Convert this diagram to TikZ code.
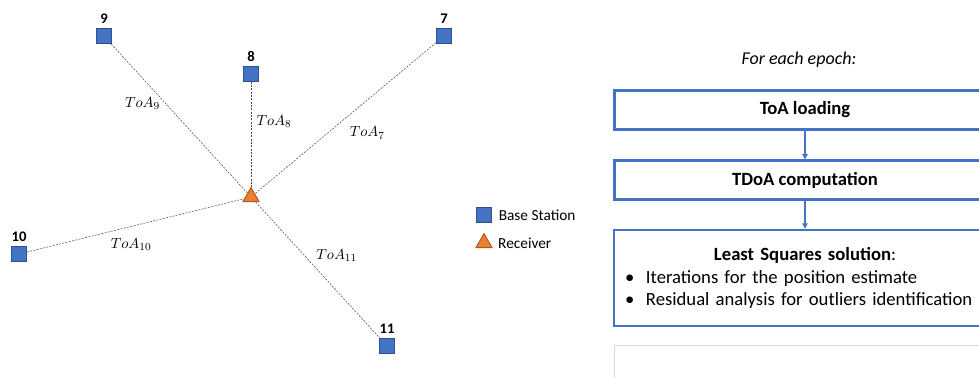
\documentclass[tikz,border=0pt]{standalone}
\usepackage{fontspec}
\setmainfont{Carlito}
\usepackage{tikz}
\usetikzlibrary{positioning,arrows.meta,shapes.geometric}
\definecolor{bsblue}{HTML}{4472C4}
\definecolor{bsedge}{HTML}{2F528F}
\definecolor{rxorange}{HTML}{ED7D31}
\definecolor{rxedge}{HTML}{AE5A21}
\definecolor{boxgrey}{HTML}{D9D9D9}

\begin{document}
\begin{tikzpicture}[
  x=0.75pt, y=-0.75pt,
  font=\fontsize{14}{17}\selectfont,
  bs/.style={draw=bsedge,fill=bsblue,line width=0.75pt,minimum size=11pt,inner sep=0pt},
  rx/.style={regular polygon,regular polygon sides=3,draw=rxedge,fill=rxorange,
             line width=0.75pt,minimum size=14pt,inner sep=0pt},
  num/.style={label={[font=\fontsize{11}{13}\selectfont\bfseries,label distance=0pt]above:#1}},
  toa/.style={draw=black!70,line width=0.4pt,dash pattern=on 1.5pt off 1pt},
  lbl/.style={font=\fontsize{11}{13}\selectfont,inner sep=1pt},
  flow/.style={draw=bsblue,line width=1.8pt,minimum width=286pt,minimum height=29pt,
               font=\fontsize{14}{17}\selectfont\bfseries},
  arr/.style={-{Triangle[length=4pt,width=4pt]},draw=bsblue,line width=1.5pt},
]
  \clip (0,0) rectangle (979,378);

  % stations and receiver
  \node[rx] (rx) at (251,197) {};
  \node[bs,num=9] (bs9) at (104,36) {};
  \node[bs,num=7] (bs7) at (444,36) {};
  \node[bs,num=8] (bs8) at (251,74) {};
  \node[bs,num=10] (bs10) at (19,254) {};
  \node[bs,num=11] (bs11) at (387,346) {};

  \draw[toa] (bs9) -- node[lbl,pos=0.4,left=3pt] {$ToA_9$} (rx);
  \draw[toa] (bs8) -- node[lbl,pos=0.38,right=3pt] {$ToA_8$} (rx);
  \draw[toa] (bs7) -- node[lbl,pos=0.53,below right=2pt and 6pt] {$ToA_7$} (rx);
  \draw[toa] (bs10) -- node[lbl,pos=0.48,below=8pt] {$ToA_{10}$} (rx);
  \draw[toa] (rx) -- node[lbl,pos=0.39,right=8pt] {$ToA_{11}$} (bs11);

  % legend
  \node[bs] (legbs) at (484,215) {};
  \node[right=5pt of legbs,inner sep=0pt,font=\fontsize{11.5}{13}\selectfont] (legbstxt) {Base Station};
  \node[rx] (legrx) at (484,243) {};
  \node[right=6pt of legrx,inner sep=0pt,font=\fontsize{11.5}{13}\selectfont] (legrxtxt) {Receiver};

  % processing chain
  \node[font=\fontsize{13.5}{16}\selectfont\itshape] (epoch) at (799,60) {For each epoch:};
  \node[flow] (load) at (805,110) {ToA loading};
  \node[flow] (tdoa) at (805,180) {TDoA computation};
  \node[flow,minimum height=72pt,text width=270pt,inner xsep=8.25pt,
        font=\fontsize{14}{16.9}\selectfont] (lsq) at (805,278)
    {{\centering\textbf{Least Squares solution}:\par}
     \makebox[15.75pt][l]{\textbullet}Iterations for the position estimate\par
     \makebox[15.75pt][l]{\textbullet}Residual analysis for outliers identification};
  \node[draw=boxgrey,line width=0.75pt,minimum width=286pt,minimum height=40pt] (next) at (805,372) {};

  \draw[arr] (load) -- (tdoa);
  \draw[arr] (tdoa) -- (lsq);
\end{tikzpicture}
\end{document}
